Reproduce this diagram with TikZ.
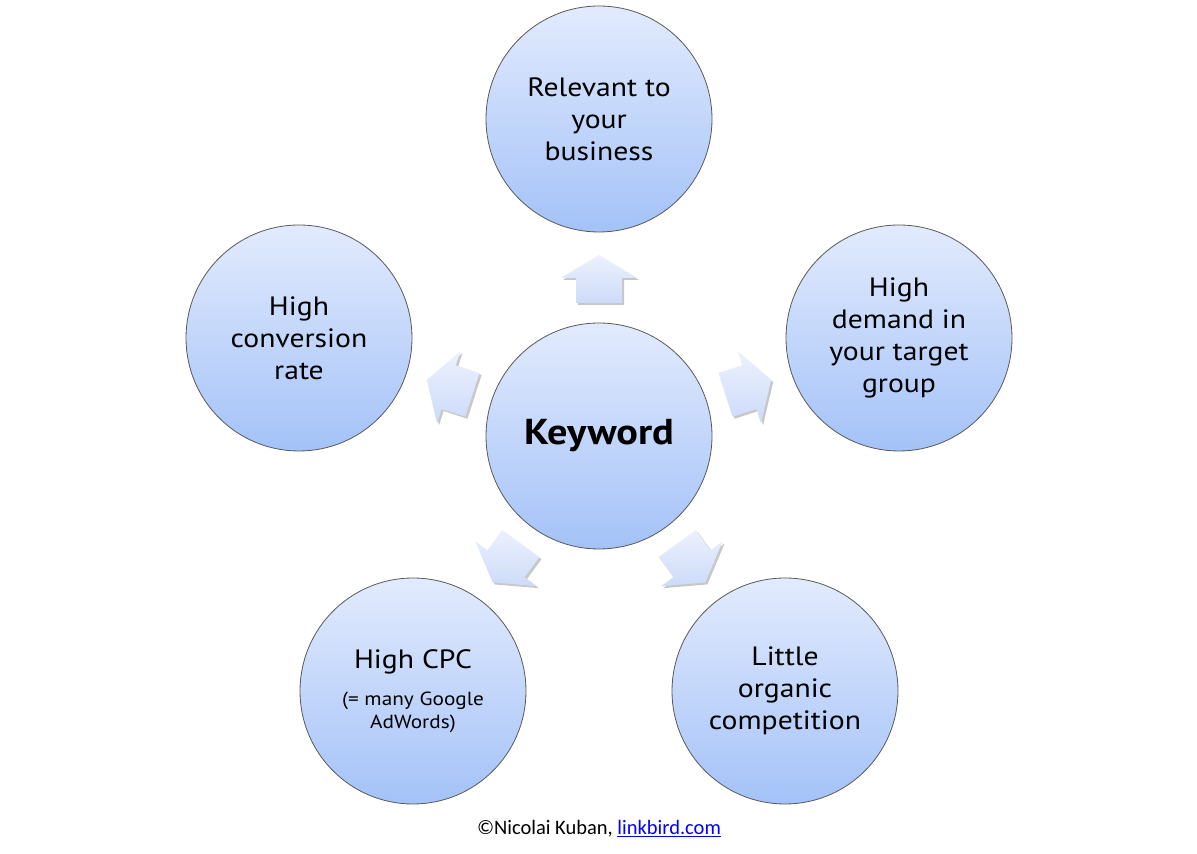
\documentclass[tikz,border=0pt]{standalone}
\usepackage{fontspec}
\setmainfont{PT Sans}[FakeStretch=1.12]
\newfontfamily\footfont{Carlito}
\usetikzlibrary{calc,shadows}
\definecolor{ctop}{HTML}{E2EBFD}
\definecolor{cbot}{HTML}{A4C2F8}
\definecolor{atop}{HTML}{ECF1FD}
\definecolor{abot}{HTML}{CDDBF9}
\definecolor{linkblue}{HTML}{0000FF}
\newcommand\kwarrow[1]{%
  \path[arrowsty] ($(K)+(#1:181)$) -- ($(K)+(#1:158)+(#1+90:38)$) -- ($(K)+(#1:158)+(#1+90:23)$) -- ($(K)+(#1:133)+(#1+90:23)$) -- ($(K)+(#1:133)+(#1-90:23)$) -- ($(K)+(#1:158)+(#1-90:23)$) -- ($(K)+(#1:158)+(#1-90:38)$) -- cycle;}
\begin{document}
\begin{tikzpicture}[x=1pt,y=1pt,
  bubble/.style={circle, minimum size=226pt, inner sep=0pt, draw=black!65, line width=0.8pt,
    top color=ctop, bottom color=cbot, align=center, text=black,
    font=\fontsize{26.5}{32}\selectfont},
  arrowsty/.style={top color=atop, bottom color=abot,
    drop shadow={shadow xshift=2pt, shadow yshift=-2pt, opacity=0.22, fill=black}}]
\useasboundingbox (0,0) rectangle (1197,854);
\fill[white] (0,0) rectangle (1197,854);
\node[bubble, font=\bfseries\fontsize{36}{40}\selectfont] (K) at (599,418) {Keyword};
\node[bubble] (T) at (599,735) {Relevant to\\your\\business};
\node[bubble] (R) at (899,516) {High\\demand in\\your target\\group};
\node[bubble] (L) at (299,516) {High\\conversion\\rate};
\node[bubble] (BL) at (413,163) {High CPC\\[5pt]\fontsize{19}{23}\selectfont (= many Google\\[-9pt]\fontsize{19}{23}\selectfont AdWords)};
\node[bubble] (BR) at (785,163) {Little\\organic\\competition};
\kwarrow{90}
\kwarrow{18}
\kwarrow{162}
\kwarrow{234}
\kwarrow{306}
\node[font=\footfont\fontsize{20.5}{23}\selectfont] (foot) at (599,25) {©Nicolai Kuban, {\color{linkblue}\underline{linkbird.com}}};
\end{tikzpicture}
\end{document}
